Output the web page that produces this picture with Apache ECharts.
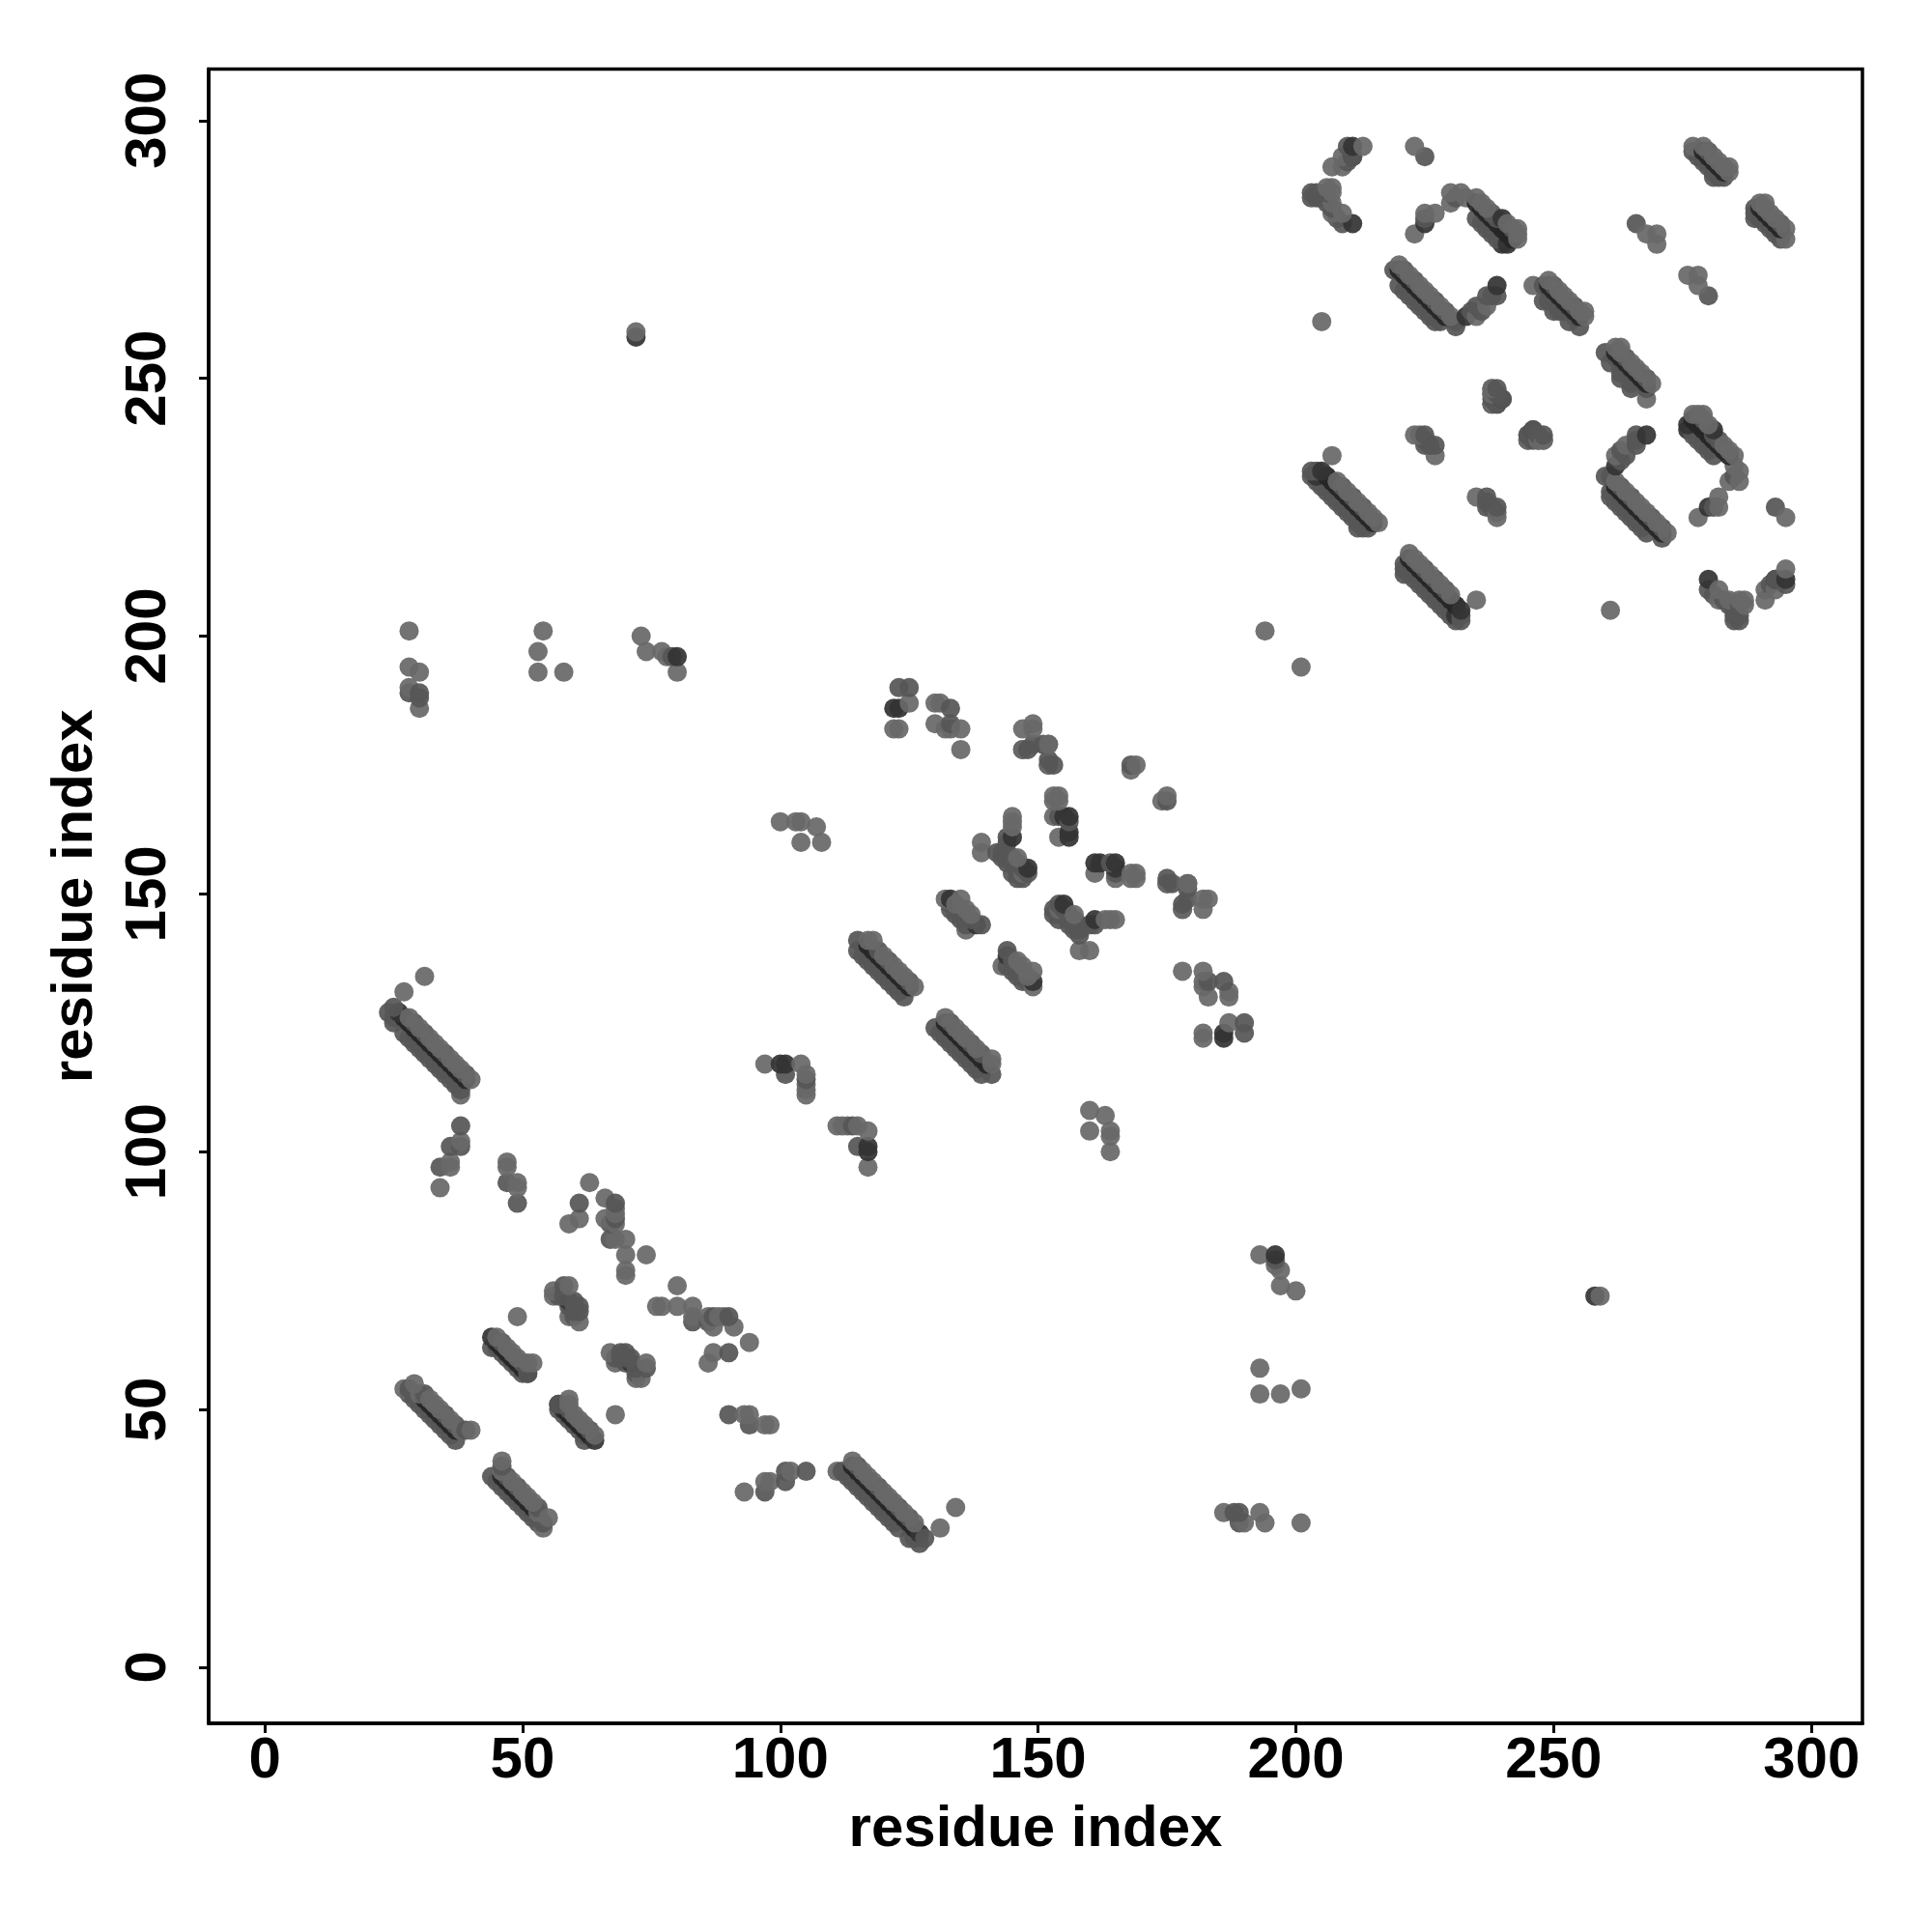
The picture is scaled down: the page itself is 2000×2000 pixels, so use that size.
<!DOCTYPE html>
<html><head><meta charset="utf-8">
<style>html,body{margin:0;padding:0;background:#fff}#c{width:2000px;height:2000px}</style>
<script src="https://cdn.jsdelivr.net/npm/echarts@6/dist/echarts.min.js"></script>
</head><body><div id="c"></div>
<script>
const tickValues = [0, 50, 100, 150, 200, 250, 300];
const axisTitle = 'residue index';

// contacts as [lower residue, higher residue]; the map is symmetric
const lightContacts = [
 [28,201],[28,194],[30,193],[28,190],[30,186],[54,201],[53,197],[53,193],[58,193],
 [73,200],[74,197],[77,197],[78,196],[80,193],[72,259],[194,201],[205,261],[27,131],[31,134],
 [38,102],[36,98],[36,97],[34,93],[47,98],[47,97],[49,94],[49,93],
 [63,94],[61,87],[59,86],[66,91],[66,87],[68,89],[68,88],[68,86],[68,83],[70,83],[70,80],[74,80],[70,77],[70,76],
 [28,126],[30,124],[32,122],[34,120],[36,118],[38,116],[40,114],[37,117],[33,121],
 [38,111],[29,55],[27,54],[30,53],[32,52],[34,50],[36,48],[38,46],[40,46],[33,51],
 [45,64],[47,62],[49,60],[51,59],[52,59],[49,68],[48,61],
 [56,73],[56,72],[59,74],[61,67],[59,68],
 [97,117],[104,117],[105,115],[105,113],[105,112],[105,111],[117,141],[118,141],[120,138],[122,136],[124,134],[126,132],[123,135],
 [132,149],[135,149],[134,148],[136,147],[137,146],[136,143],
 [145,165],[145,164],[145,163],[139,160],[139,158],[146,157],[147,154],[153,169],[154,169],[153,168],[154,168],[153,165],[154,161],
 [147,182],[149,183],[149,182],[152,175],[152,179],[147,178],[168,174],[169,175],
 [125,187],[122,182],[123,182],[130,187],[131,187],[130,183],[133,182],[132,182],[135,182],[135,178],
 [100,164],[103,164],[104,164],[107,163],[108,160],[104,160],
 [207,235],[208,230],[210,228],[212,226],[214,224],[216,222],[215,223],
 [223,239],[224,239],[227,235],[238,248],[238,247],[245,238],[248,238],[247,238],
 [213,295],[209,293],[207,291],[209,291],[206,287],[207,287],[207,286],[207,284],[207,282],[209,282],
 [220,272],[222,270],[224,268],[226,266],[228,264],[230,262],[235,262],[237,264],[225,267],
 [223,295],[223,278],[227,282],[225,282],
 [230,286],[232,286],[230,284],[233,285],[235,285],[237,283],[241,280],[243,279],[243,278],[243,277],[236,284],
 [246,268],[249,269],[251,267],[253,265],[255,263],[256,263],[256,262],[252,266],
 [268,278],[270,278],[270,276],[277,295],[279,295],[281,293],[283,291],[284,291],[284,290],[282,292]
];
const midContacts = [
 [30,188],[28,189],[30,189],[79,196],[38,105],[38,101],[36,101],[34,97],[47,94],[49,90],[61,90],[68,90],[68,87],[67,86],[67,83],
 [25,128],[24,127],[25,126],[25,125],[27,123],[29,121],[31,119],[33,117],[35,115],[37,113],[38,112],
 [29,125],[31,123],[35,119],[39,115],[28,122],[30,120],[32,118],[34,116],[36,114],
 [28,54],[28,53],[30,51],[32,49],[34,47],[36,45],[37,44],[39,46],[31,53],[35,49],[37,47],[29,52],[31,50],[33,48],[35,46],
 [44,62],[46,61],[48,59],[50,57],[51,57],[46,63],[50,59],[45,62],[47,60],[49,58],
 [58,74],[57,72],[58,72],[60,71],[59,70],[60,70],[60,69],[61,70],[61,69],[60,68],
 [101,115],[105,114],[119,139],[115,141],[121,137],[125,133],
 [115,139],[117,137],[119,135],[121,133],[123,131],[124,130],[116,138],[118,136],[120,134],[122,132],
 [134,146],[133,147],[133,148],[135,145],[136,144],[137,145],[139,144],[135,147],
 [144,161],[144,160],[142,158],[143,157],[144,158],[144,157],[145,157],[145,156],[146,156],[146,155],[147,155],[145,154],[146,154],[147,153],[146,153],[144,156],[143,158],[148,154],
 [154,165],[156,164],[175,153],[175,152],[176,152],[179,152],[179,151],[179,149],[178,147],[178,148],
 [168,175],[123,190],[125,190],[133,186],[133,183],
 [203,232],[204,232],[203,231],[205,229],[207,227],[209,225],[211,223],[213,221],[214,221],[212,221],
 [209,229],[211,227],[213,225],[204,230],[206,228],[208,226],[210,224],[212,222],
 [225,239],[225,238],[225,237],[226,237],[227,237],[238,246],[239,248],[239,247],[238,245],[239,245],[245,239],[246,240],
 [210,295],[211,293],[210,292],[203,286],[203,285],[204,286],[204,285],[206,286],[205,285],[206,284],[207,283],[209,280],[208,281],
 [221,271],[219,271],[220,268],[222,266],[224,264],[226,262],[227,261],[228,261],[231,260],
 [223,269],[227,265],[229,263],[221,267],[223,265],[225,263],
 [231,261],[235,264],[237,266],[239,266],[238,266],[236,263],[234,263],[225,281],[225,293],
 [231,285],[235,281],[237,279],[239,277],[239,281],[238,282],[242,279],[236,280],[238,278],
 [248,268],[248,265],[250,263],[252,263],[253,261],[255,260],[254,262],[250,268],[254,264],[249,265],[251,263],
 [266,280],[277,294],[278,293],[280,291],[281,289],[282,289],[283,289],[280,294],[279,292],[281,290]
];
const darkContacts = [
 [80,196],[72,258],[26,127],[101,117],[100,117],[122,186],[123,186],[133,149],[138,144],[148,155],[145,161],
 [155,165],[156,165],[156,162],[156,161],[204,231],[205,232],[211,280],[211,295],[225,280],[240,281],
 [239,268],[233,262],[240,246],[241,276],[240,276],[211,293],[59,71],[44,64]
];
// the darker rows showing as a thin line just under the lighter rows of each long band
const grooveContacts = [
 [27,126],[28,125],[29,124],[30,123],[31,122],[32,121],[33,120],[34,119],[35,118],[36,117],[37,116],[38,115],[39,114],
 [31,52],[32,51],[33,50],[34,49],[35,48],[36,47],[37,46],
 [45,63],[46,62],[47,61],[48,60],[49,59],[50,58],[51,57],
 [117,140],[118,139],[119,138],[120,137],[121,136],[122,135],[123,134],[124,133],[125,132],
 [206,231],[207,230],[208,229],[209,228],[210,227],[211,226],[212,225],[213,224],[214,223],[215,222],
 [220,271],[221,270],[222,269],[223,268],[224,267],[225,266],[226,265],[227,264],[228,263],[229,262],
 [235,284],[236,283],[237,282],[238,281],[239,280],[240,279],[241,278],[242,277],
 [249,268],[250,267],[251,266],[252,265],[253,264],[254,263],[255,262],
 [279,294],[280,293],[281,292],[282,291],[283,290]
];

function mirrored(list, shade) {
  const out = [];
  list.forEach(function (p) {
    out.push([p[0], p[1], shade]);
    out.push([p[1], p[0], shade]);
  });
  return out;
}
const pointData = mirrored(grooveContacts, 3).concat(mirrored(darkContacts, 2), mirrored(midContacts, 1), mirrored(lightContacts, 0));
pointData.sort(function (a, b) { return (a[0] + a[1]) - (b[0] + b[1]); });

const shadeColors = ['#686868', '#565656', '#343434', '#262626'];
const axisFont = { color: '#000', fontFamily: 'Liberation Sans', fontWeight: 'bold' };
const chart = echarts.init(document.getElementById('c'), null, { renderer: 'canvas' });
chart.setOption({
  animation: false,
  backgroundColor: '#fff',
  grid: { left: 216, right: 72, top: 71.5, bottom: 216, show: true, borderColor: '#000', borderWidth: 3.5, backgroundColor: '#fff' },
  xAxis: {
    type: 'value', min: -10.88, max: 309.88,
    name: axisTitle, nameLocation: 'middle', nameGap: 80,
    nameTextStyle: Object.assign({ fontSize: 60 }, axisFont),
    axisLine: { show: true, onZero: false, lineStyle: { color: '#000', width: 3.5 } },
    axisTick: { show: true, length: 10, customValues: tickValues, lineStyle: { color: '#000', width: 3 } },
    axisLabel: Object.assign({ customValues: tickValues, fontSize: 60, margin: 9 }, axisFont),
    splitLine: { show: false }
  },
  yAxis: {
    type: 'value', min: -10.88, max: 309.98,
    name: axisTitle, nameLocation: 'middle', nameGap: 108, nameRotate: 90,
    nameTextStyle: Object.assign({ fontSize: 60 }, axisFont),
    axisLine: { show: true, onZero: false, lineStyle: { color: '#000', width: 3.5 } },
    axisTick: { show: true, length: 10, customValues: tickValues, lineStyle: { color: '#000', width: 3 } },
    axisLabel: Object.assign({ customValues: tickValues, fontSize: 60, margin: 32, rotate: 90 }, axisFont),
    splitLine: { show: false }
  },
  series: [{
    type: 'scatter',
    data: pointData,
    symbol: 'circle',
    symbolSize: 20,
    itemStyle: {
      opacity: 0.93,
      color: function (params) { return shadeColors[params.data[2]]; }
    }
  }]
});
</script></body></html>
